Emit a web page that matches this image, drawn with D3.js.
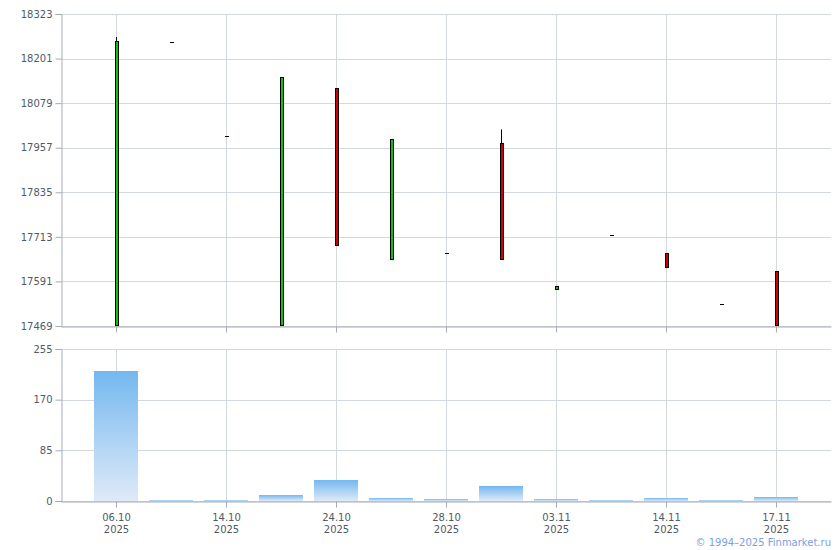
<!DOCTYPE html>
<html>
<head>
<meta charset="utf-8">
<script src="https://cdn.jsdelivr.net/npm/d3@7"></script>
<style>
  body { margin: 0; background: #fff; }
  svg { display: block; font-family: "DejaVu Sans", Verdana, sans-serif; }
</style>
</head>
<body>
<svg id="chart" width="840" height="550"></svg>
<script>
// trading days (only every second one gets a label on the axis)
const dates = ['06.10', '09.10', '14.10', '20.10', '24.10', '27.10', '28.10',
               '30.10', '03.11', '10.11', '14.11', '15.11', '17.11'];
const year = '2025';
const open  = [17469, 18247, 17989, 17469, 18120, 17649, 17668, 17969, 17570, 17717, 17668, 17528, 17619];
const high  = [18260, 18247, 17989, 18150, 18120, 17980, 17668, 18007, 17579, 17717, 17668, 17528, 17619];
const low   = [17469, 18247, 17989, 17469, 17689, 17649, 17668, 17649, 17570, 17717, 17629, 17528, 17469];
const close = [18249, 18247, 17989, 18150, 17689, 17980, 17668, 17649, 17579, 17717, 17629, 17528, 17469];
const volume = [218, 1, 1, 10, 35, 5, 3, 25, 3, 2, 5, 2, 7];
const priceTicks = [17469, 17591, 17713, 17835, 17957, 18079, 18201, 18323];
const volumeTicks = [0, 85, 170, 255];

const svg = d3.select('#chart');
const left = 61, right = 831;
const priceTop = 14, priceBottom = 326;
const volTop = 349, volBottom = 501;
const gridColor = '#d3d8de', axisColor = '#a6abb4', textColor = '#505a66';

const x = d3.scalePoint().domain(dates).range([left, right]).padding(1);
const yPrice = d3.scaleLinear().domain([17469, 18323]).range([priceBottom, priceTop]);
const yVol = d3.scaleLinear().domain([0, 255]).range([volBottom, volTop]);
const labelled = dates.filter((d, i) => i % 2 === 0);

const defs = svg.append('defs');
const grad = defs.append('linearGradient').attr('id', 'volGrad')
  .attr('x1', 0).attr('y1', 0).attr('x2', 0).attr('y2', 1);
grad.append('stop').attr('offset', '0%').attr('stop-color', '#74b8ef');
grad.append('stop').attr('offset', '100%').attr('stop-color', '#dfeaf8');

function grid(yScale, ticks, top, bottom) {
  const g = svg.append('g');
  g.selectAll('.hg').data(ticks).enter().append('line')
    .attr('x1', left).attr('x2', right)
    .attr('y1', d => Math.round(yScale(d)) + 0.5).attr('y2', d => Math.round(yScale(d)) + 0.5)
    .attr('stroke', gridColor);
  g.selectAll('.vg').data(labelled).enter().append('line')
    .attr('x1', d => Math.round(x(d)) + 0.5).attr('x2', d => Math.round(x(d)) + 0.5)
    .attr('y1', top).attr('y2', bottom)
    .attr('stroke', gridColor);
}

function axes(yScale, ticks, bottom, withLabels) {
  const yAxis = svg.append('g')
    .attr('transform', `translate(${left + 0.5},0)`)
    .call(d3.axisLeft(yScale).tickValues(ticks).tickSize(6).tickPadding(3).tickFormat(d3.format('d')));
  yAxis.select('.domain').attr('stroke', axisColor);
  yAxis.selectAll('.tick line').attr('stroke', axisColor);
  yAxis.selectAll('text').attr('fill', textColor).style('font-size', '10px')
    .style('font-family', '"DejaVu Sans", Verdana, sans-serif');

  const xAxis = svg.append('g')
    .attr('transform', `translate(0,${bottom + 0.5})`)
    .call(d3.axisBottom(x).tickValues(labelled).tickSize(6).tickSizeOuter(0).tickFormat(''));
  xAxis.select('.domain').attr('stroke', axisColor);
  xAxis.selectAll('.tick line').attr('stroke', axisColor);
  if (withLabels) {
    xAxis.selectAll('.tick').each(function(d) {
      const t = d3.select(this).append('text')
        .attr('fill', textColor).attr('text-anchor', 'middle')
        .style('font-size', '10px').style('font-family', '"DejaVu Sans", Verdana, sans-serif');
      t.append('tspan').attr('x', 0).attr('y', 19).text(d);
      t.append('tspan').attr('x', 0).attr('y', 31).text(year);
    });
  }
}

// price panel
grid(yPrice, priceTicks, priceTop, priceBottom);
const candles = svg.append('g');
dates.forEach((d, i) => {
  const cx = Math.round(x(d));
  if (high[i] > Math.max(open[i], close[i])) {
    candles.append('line')
      .attr('x1', cx + 0.5).attr('x2', cx + 0.5)
      .attr('y1', yPrice(high[i])).attr('y2', yPrice(Math.max(open[i], close[i])))
      .attr('stroke', '#000');
  }
  if (low[i] < Math.min(open[i], close[i])) {
    candles.append('line')
      .attr('x1', cx + 0.5).attr('x2', cx + 0.5)
      .attr('y1', yPrice(Math.min(open[i], close[i]))).attr('y2', yPrice(low[i]))
      .attr('stroke', '#000');
  }
  if (open[i] === close[i]) {
    candles.append('line')
      .attr('x1', cx - 1).attr('x2', cx + 3)
      .attr('y1', Math.round(yPrice(close[i])) + 0.5).attr('y2', Math.round(yPrice(close[i])) + 0.5)
      .attr('stroke', '#000');
  } else {
    const top = Math.round(yPrice(Math.max(open[i], close[i])));
    const bot = Math.round(yPrice(Math.min(open[i], close[i])));
    candles.append('rect')
      .attr('x', cx - 0.5).attr('y', top + 0.5)
      .attr('width', 3).attr('height', Math.max(bot - top - 1, 3))
      .attr('fill', close[i] > open[i] ? '#12c012' : '#d40000')
      .attr('stroke', '#000').attr('stroke-width', 1);
  }
});
axes(yPrice, priceTicks, priceBottom, false);

// volume panel
grid(yVol, volumeTicks, volTop, volBottom);
svg.append('g').selectAll('rect').data(volume).enter().append('rect')
  .attr('x', (v, i) => x(dates[i]) - 22)
  .attr('y', v => Math.round(yVol(v)))
  .attr('width', 44)
  .attr('height', v => volBottom - Math.round(yVol(v)))
  .attr('fill', 'url(#volGrad)');
axes(yVol, volumeTicks, volBottom, true);

svg.append('text')
  .attr('x', 831).attr('y', 546)
  .attr('text-anchor', 'end')
  .attr('fill', '#7c9ee6')
  .style('font-size', '10px')
  .text('© 1994–2025 Finmarket.ru');
</script>
</body>
</html>
